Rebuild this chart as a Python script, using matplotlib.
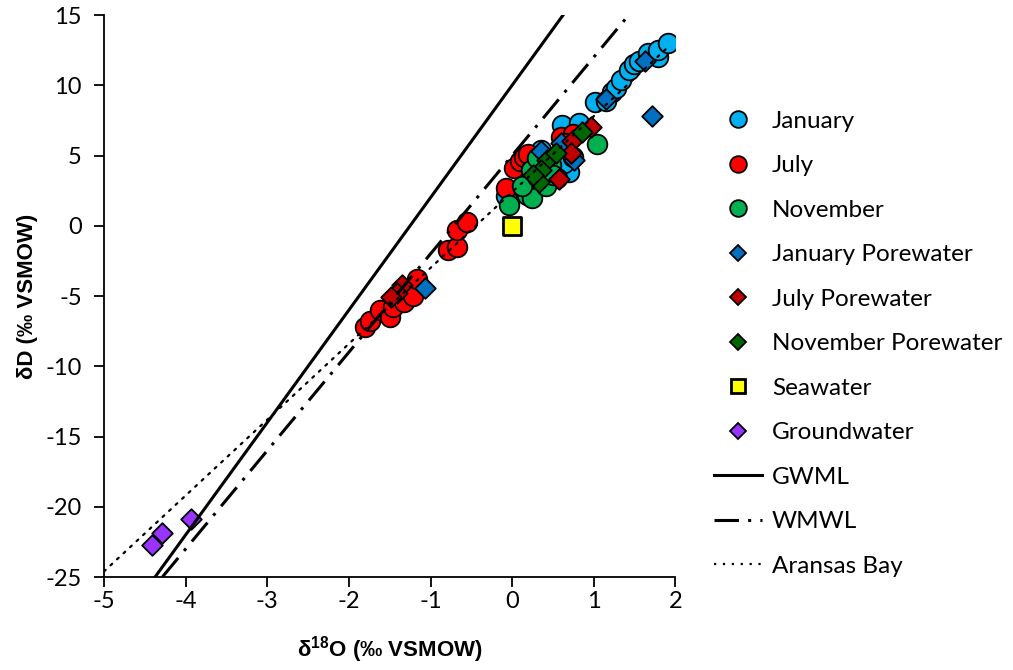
import numpy as np
import matplotlib
matplotlib.use('Agg')
import matplotlib.pyplot as plt
from matplotlib.lines import Line2D

plt.rcParams['font.family'] = ['Lato', 'DejaVu Sans']
plt.rcParams['axes.unicode_minus'] = False
plt.rcParams['mathtext.fontset'] = 'custom'
plt.rcParams['mathtext.rm'] = 'Liberation Sans'
plt.rcParams['mathtext.bf'] = 'Liberation Sans:bold'

# surface water samples (d18O, dD)
jan_x = [1.02, 1.15, 1.22, 1.27, 1.34, 1.43, 1.49, 1.55, 1.67, 1.79, 1.79, 1.91,
         0.61, 0.82, 0.70, 0.63, 0.35, 0.75, -0.07]
jan_y = [8.8, 8.9, 9.5, 9.8, 10.4, 11.1, 11.5, 11.7, 12.3, 12.0, 12.5, 13.0,
         7.2, 7.3, 3.8, 4.5, 5.4, 4.9, 2.1]
jul_x = [-1.80, -1.74, -1.62, -1.50, -1.46, -1.32, -1.22, -1.17, -0.79, -0.67, -0.67, -0.55,
         -0.07, 0.02, 0.10, 0.15, 0.20, 0.60, 0.75, 0.55, 0.65]
jul_y = [-7.2, -6.8, -6.0, -6.5, -5.8, -5.4, -5.0, -3.8, -1.7, -1.5, -0.3, 0.3,
         2.7, 4.1, 4.6, 4.9, 5.1, 6.3, 6.5, 3.4, 5.9]
nov_x = [1.04, -0.04, 0.18, 0.24, 0.23, 0.29, 0.39, 0.41, 0.12, 0.48, 0.30, 0.50]
nov_y = [5.8, 1.5, 2.2, 2.0, 4.0, 3.5, 4.1, 2.8, 2.8, 4.3, 4.8, 3.6]

# porewater samples
janpw_x = [1.71, 1.15, 1.63, -1.07, 0.76, 0.60, 0.35]
janpw_y = [7.8, 9.0, 11.7, -4.4, 4.7, 5.9, 5.3]
julpw_x = [-1.35, -1.41, -1.48, 0.97, 0.73, 0.72, 0.57]
julpw_y = [-4.2, -4.8, -5.1, 7.0, 6.0, 5.2, 3.3]
novpw_x = [0.43, 0.54, 0.35, 0.33, 0.85, 0.25]
novpw_y = [4.7, 5.2, 4.0, 3.1, 6.7, 3.6]

sea_x, sea_y = [0.0], [0.0]
gw_x = [-4.41, -4.29, -3.93]
gw_y = [-22.7, -21.9, -20.9]

# meteoric water lines: dD = slope * d18O + intercept
gwml = (8.0, 10.0)
wmwl = (7.0, 5.0)
bay = (5.4, 2.4)

fig = plt.figure(figsize=(10.13, 6.70), dpi=100)
ax = fig.add_axes([0.1027, 0.1388, 0.5640, 0.8388])

ax.scatter(jan_x, jan_y, s=200, c='#00B0F0', edgecolors='black', linewidths=1.3, zorder=3)
ax.scatter(jul_x, jul_y, s=200, c='#FF0000', edgecolors='black', linewidths=1.3, zorder=3)
ax.scatter(nov_x, nov_y, s=200, c='#00B050', edgecolors='black', linewidths=1.3, zorder=3)
ax.scatter(janpw_x, janpw_y, s=110, marker='D', c='#0070C0', edgecolors='black', linewidths=1.3, zorder=4)
ax.scatter(julpw_x, julpw_y, s=110, marker='D', c='#C00000', edgecolors='black', linewidths=1.3, zorder=4)
ax.scatter(novpw_x, novpw_y, s=110, marker='D', c='#006600', edgecolors='black', linewidths=1.3, zorder=4)
ax.scatter(sea_x, sea_y, s=150, marker='s', c='#FFFF00', edgecolors='black', linewidths=2, zorder=4)
ax.scatter(gw_x, gw_y, s=110, marker='D', c='#9933FF', edgecolors='black', linewidths=1.3, zorder=4)

xs = np.array([-5, 2])
ax.plot(xs, gwml[0] * xs + gwml[1], color='black', lw=2.2, zorder=5)
ax.plot(xs, wmwl[0] * xs + wmwl[1], color='black', lw=2.2, ls=(0, (8, 3, 1, 3)), zorder=5)
xb = np.array([-5, 1.9])
ax.plot(xb, bay[0] * xb + bay[1], color='black', lw=1.6, ls=(0, (1, 3)),
        dash_capstyle='round', zorder=5)

ax.set_xlim(-5, 2)
ax.set_ylim(-25, 15)
ax.set_xticks(range(-5, 3))
ax.set_yticks(range(-25, 16, 5))
for s in ['top', 'right']:
    ax.spines[s].set_visible(False)
for s in ['left', 'bottom']:
    ax.spines[s].set_linewidth(1.3)
ax.tick_params(direction='out', length=7, width=1.3, labelsize=17)
ax.tick_params(axis='x', pad=3)
ax.tick_params(axis='y', pad=9)
ax.set_xlabel(r'δ$^{\mathbf{18}}$O (‰ VSMOW)', fontsize=16, fontweight='bold',
              family=['Liberation Sans', 'DejaVu Sans'], labelpad=16)
ax.set_ylabel('δD (‰ VSMOW)', fontsize=16, fontweight='bold',
              family=['Liberation Sans', 'DejaVu Sans'], labelpad=5)

handles = [
    Line2D([], [], ls='none', marker='o', ms=12, mfc='#00B0F0', mec='black', mew=1.3),
    Line2D([], [], ls='none', marker='o', ms=12, mfc='#FF0000', mec='black', mew=1.3),
    Line2D([], [], ls='none', marker='o', ms=12, mfc='#00B050', mec='black', mew=1.3),
    Line2D([], [], ls='none', marker='D', ms=8, mfc='#0070C0', mec='black', mew=1.3),
    Line2D([], [], ls='none', marker='D', ms=8, mfc='#C00000', mec='black', mew=1.3),
    Line2D([], [], ls='none', marker='D', ms=8, mfc='#006600', mec='black', mew=1.3),
    Line2D([], [], ls='none', marker='s', ms=10, mfc='#FFFF00', mec='black', mew=2),
    Line2D([], [], ls='none', marker='D', ms=8, mfc='#9933FF', mec='black', mew=1.3),
    Line2D([], [], color='black', lw=2.2),
    Line2D([], [], color='black', lw=2.2, ls=(0, (8, 3, 1, 3))),
    Line2D([], [], color='black', lw=1.6, ls=(0, (1, 3))),
]
labels = ['January', 'July', 'November', 'January Porewater', 'July Porewater',
          'November Porewater', 'Seawater', 'Groundwater', 'GWML', 'WMWL', 'Aransas Bay']
fig.legend(handles, labels, loc='upper left', bbox_to_anchor=(0.695, 0.849),
           frameon=False, fontsize=17.5, handlelength=2.0, handletextpad=0.4,
           labelspacing=0.965, borderaxespad=0)

fig.savefig('out.png', dpi=100)
